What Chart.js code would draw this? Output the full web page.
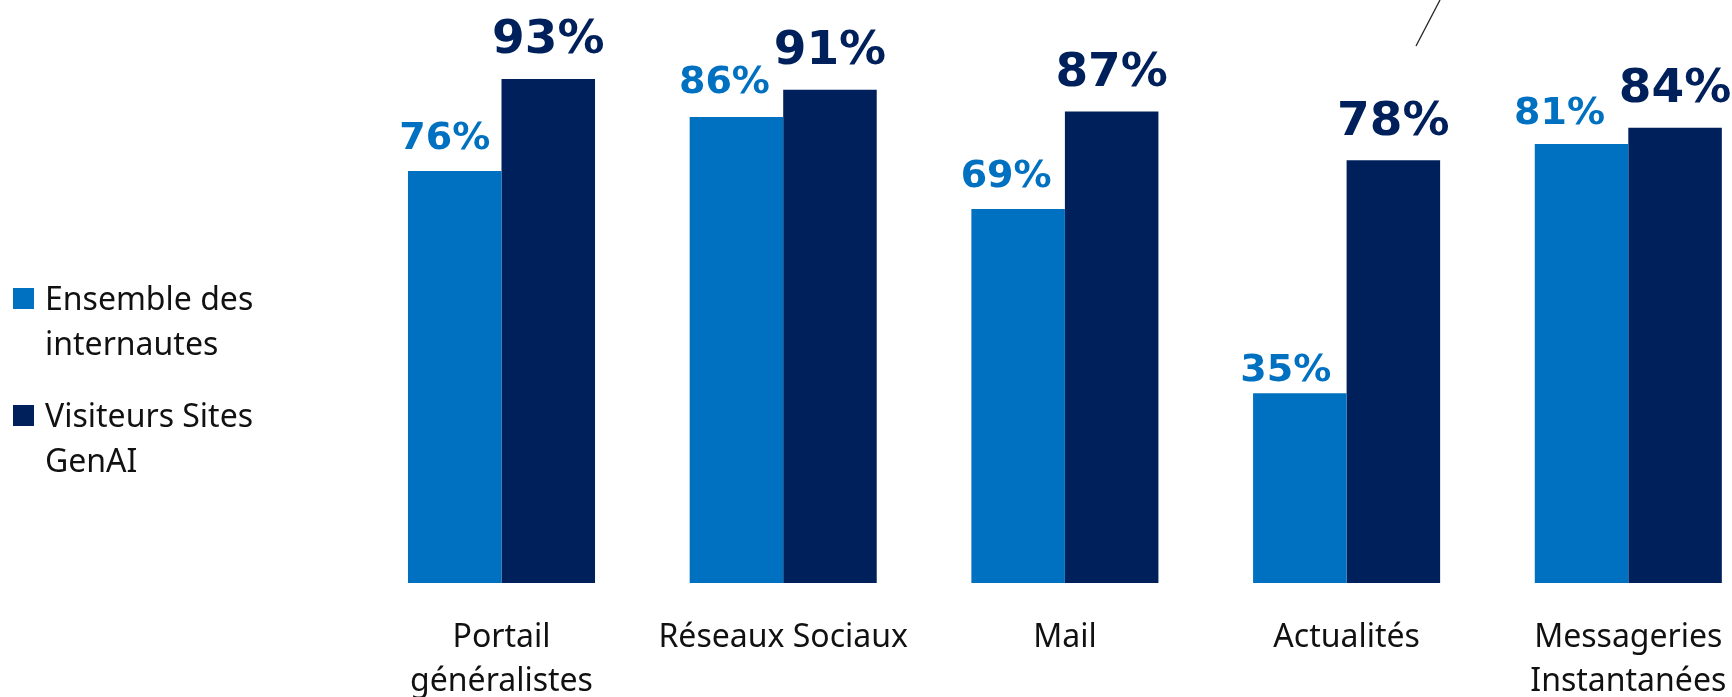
<!DOCTYPE html>
<html>
<head>
<meta charset="utf-8">
<script src="https://cdn.jsdelivr.net/npm/chart.js@4/dist/chart.umd.min.js"></script>
<style>
  html, body { margin: 0; padding: 0; background: #fff; overflow: hidden; }
  #wrap { position: relative; width: 1780px; height: 697px; }
</style>
</head>
<body>
<div id="wrap"><canvas id="c" width="1780" height="697"></canvas></div>
<script>
const categories = [["Portail", "généralistes"], "Réseaux Sociaux", "Mail", "Actualités", ["Messageries", "Instantanées"]];
const seriesNames = [["Ensemble des", "internautes"], ["Visiteurs Sites", "GenAI"]];
const ensembleValues = [76, 86, 69, 35, 81];
const genaiValues = [93, 91, 87, 78, 84];

const colors = ["#0070C0", "#00205B"];

const labelPlugin = {
  id: "barLabels",
  afterDatasetsDraw(chart, args, opts) {
    const ctx = chart.ctx;
    ctx.save();
    ctx.textAlign = "center";
    ctx.textBaseline = "alphabetic";
    chart.data.datasets.forEach((ds, di) => {
      const meta = chart.getDatasetMeta(di);
      const st = opts.styles[di];
      ctx.font = "bold " + st.size + "px 'DejaVu Sans'";
      ctx.fillStyle = ds.backgroundColor;
      meta.data.forEach((el, i) => {
        const dx = st.dx ? st.dx[i] : 0;
        const dy = st.dy ? st.dy[i] : 0;
        ctx.fillText(ds.data[i] + "%", el.x + dx, el.y - st.gap + dy);
      });
    });
    ctx.restore();
  },
  afterDraw(chart, args, opts) {
    const ctx = chart.ctx;
    ctx.save();
    ctx.font = "32px 'Noto Sans'";
    ctx.textBaseline = "alphabetic";
    ctx.textAlign = "left";
    const lg = opts.legend;
    chart.data.datasets.forEach((ds, di) => {
      const y0 = lg.firstBaselines[di];
      ctx.fillStyle = ds.backgroundColor;
      ctx.fillRect(lg.boxX, y0 - lg.box - 1, lg.box, lg.box);
      ctx.fillStyle = "#111";
      const lines = Array.isArray(ds.label) ? ds.label : [ds.label];
      lines.forEach((t, li) => ctx.fillText(t, lg.textX, y0 + li * lg.lineH));
    });
    ctx.strokeStyle = "#222";
    ctx.lineWidth = 1.3;
    ctx.beginPath();
    ctx.moveTo(1416, 46);
    ctx.lineTo(1440, 0);
    ctx.stroke();
    ctx.restore();
  }
};

new Chart(document.getElementById("c"), {
  type: "bar",
  data: {
    labels: categories,
    datasets: [
      { label: seriesNames[0], data: ensembleValues, backgroundColor: colors[0] },
      { label: seriesNames[1], data: genaiValues, backgroundColor: colors[1] }
    ]
  },
  plugins: [labelPlugin],
  options: {
    responsive: false,
    animation: false,
    layout: { padding: { left: 360.65, right: 10.85, top: 41, bottom: 0 } },
    datasets: { bar: { categoryPercentage: 0.664, barPercentage: 1.0, borderWidth: 0 } },
    scales: {
      x: {
        grid: { display: false, drawTicks: false },
        border: { display: false },
        ticks: {
          autoSkip: false, maxRotation: 0, minRotation: 0,
          color: "#111",
          padding: 32,
          font: { family: "'Noto Sans'", size: 32, lineHeight: 1.4 }
        },
        afterFit(s) { s.height = 114; }
      },
      y: {
        display: false,
        min: 0, max: 100
      }
    },
    plugins: {
      legend: { display: false },
      tooltip: { enabled: false },
      barLabels: {
        styles: [
          { size: 38, gap: 22, dx: [-10, -12, -12, -14, -22], dy: [0, -2, 0, 10, 2] },
          { size: 47, gap: 25.5 }
        ],
        legend: { boxX: 13, box: 21, textX: 45, lineH: 45, firstBaselines: [310, 427] }
      }
    }
  }
});
</script>
</body>
</html>
